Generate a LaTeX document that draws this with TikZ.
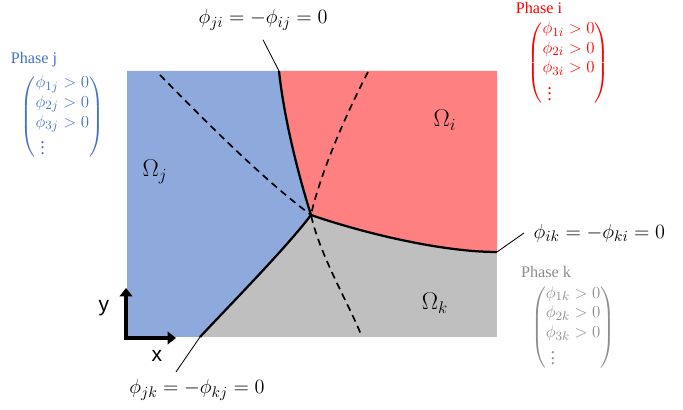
\documentclass[tikz,border=0pt]{standalone}
\usepackage{amsmath}
\usepackage{mathtools}
\usepackage{fontspec}
\setmainfont{Liberation Serif}
\newfontfamily\axisfont{Liberation Sans}
\usetikzlibrary{arrows.meta,positioning}

\definecolor{phaseblue}{HTML}{8EA9DB}
\definecolor{phasered}{HTML}{FF8080}
\definecolor{phasegray}{HTML}{BFBFBF}
\definecolor{textblue}{HTML}{4472C4}
\definecolor{textred}{HTML}{FF0000}
\definecolor{textgray}{HTML}{8C8C8C}

\tikzset{
  boundary/.style={line width=1.6pt},
  ext/.style={line width=1.2pt, dash pattern=on 5pt off 3.5pt},
  leader/.style={line width=0.6pt},
  eqn/.style={font=\fontsize{15}{18}\selectfont, inner sep=1pt},
  omega/.style={font=\fontsize{17}{20}\selectfont},
  phasetitle/.style={font=\fontsize{11.5}{13}\selectfont, inner sep=0pt},
  cond/.style={font=\fontsize{13}{14}\selectfont, inner sep=0pt},
  axislbl/.style={font=\axisfont\fontsize{15}{18}\selectfont},
  axis/.style={line width=3.5pt, line join=miter,
    {Triangle[width=9pt,length=6pt]}-{Triangle[width=9pt,length=6pt]}},
}

\begin{document}
\begin{tikzpicture}
  \useasboundingbox (0,0) rectangle (17.075,10.25);
  % triple junction and ends of the interfaces
  \coordinate (T) at (7.775,4.875);
  \coordinate (A) at (6.975,8.475);
  \coordinate (B) at (12.425,3.95);
  \coordinate (C) at (5.0,1.825);

  % phase regions
  \fill[phasegray] (3.175,1.825) rectangle (12.425,8.475);
  \fill[phaseblue] (3.175,8.475) -- (A) .. controls (7.1,7.3) and (7.45,5.9) .. (T)
    .. controls (7.175,4.075) and (5.7,2.575) .. (C) -- (3.175,1.825) -- cycle;
  \fill[phasered] (A) -- (12.425,8.475) -- (B) .. controls (11.0,3.95) and (9.0,4.45) .. (T)
    .. controls (7.45,5.9) and (7.1,7.3) .. (A) -- cycle;

  % interfaces continued into the third phase
  \draw[ext] (4.0,8.375) .. controls (5.2,7.15) and (6.6,5.75) .. (T);
  \draw[ext] (9.2,8.45) .. controls (8.65,7.4) and (8.0,5.9) .. (T)
    .. controls (8.0,3.85) and (8.75,2.6) .. (9.05,1.825);

  % interfaces
  \draw[boundary] (A) .. controls (7.1,7.3) and (7.45,5.9) .. (T);
  \draw[boundary] (T) .. controls (9.0,4.45) and (11.0,3.95) .. (B);
  \draw[boundary] (T) .. controls (7.175,4.075) and (5.7,2.575) .. (C);

  % interface labels
  \node[eqn] (lblji) at (6.575,9.75) {$\phi_{ji} = -\phi_{ij} = 0$};
  \node[eqn, anchor=west] (lblik) at (13.3,4.425) {$\phi_{ik} = -\phi_{ki} = 0$};
  \node[eqn] (lbljk) at (4.925,0.5) {$\phi_{jk} = -\phi_{kj} = 0$};
  \draw[leader] ([yshift=-0.2cm]lblji.south) -- (A);
  \draw[leader] ([xshift=-0.2cm]lblik.west) -- (B);
  \draw[leader] ([xshift=-0.525cm,yshift=0.15cm]lbljk.north) -- (C);

  % domains
  \node[omega] (omi) at (11.125,7.25) {$\Omega_i$};
  \node[omega] (omj) at (3.875,5.95) {$\Omega_j$};
  \node[omega] (omk) at (10.875,2.675) {$\Omega_k$};

  % axes
  \coordinate (O) at (3.15,1.8);
  \coordinate (Y) at (3.15,3.05);
  \coordinate (X) at (4.4,1.8);
  \draw[axis] (Y) -- (O) -- (X);
  \node[axislbl] (ylbl) at (2.6,2.55) {y};
  \node[axislbl] (xlbl) at (3.925,1.35) {x};

  % phase fields
  \node[phasetitle, text=textblue] (phj) at (0.85,8.75) {Phase j};
  \node[cond, text=textblue, below right=0.15cm and 0.25cm of phj.south west] (condj)
    {$\begin{pmatrix*}[l]\phi_{1j} > 0\\ \phi_{2j} > 0\\ \phi_{3j} > 0\\ \;\vdots\end{pmatrix*}$};
  \node[phasetitle, text=textred] (phi) at (13.475,10.06) {Phase i};
  \node[cond, text=textred, below right=0.15cm and 0.3cm of phi.south west] (condi)
    {$\begin{pmatrix*}[l]\phi_{1i} > 0\\ \phi_{2i} > 0\\ \phi_{3i} > 0\\ \;\vdots\end{pmatrix*}$};
  \node[phasetitle, text=textgray] (phk) at (13.65,3.45) {Phase k};
  \node[cond, text=textgray, below right=0.15cm and 0.25cm of phk.south west] (condk)
    {$\begin{pmatrix*}[l]\phi_{1k} > 0\\ \phi_{2k} > 0\\ \phi_{3k} > 0\\ \;\vdots\end{pmatrix*}$};
\end{tikzpicture}
\end{document}
